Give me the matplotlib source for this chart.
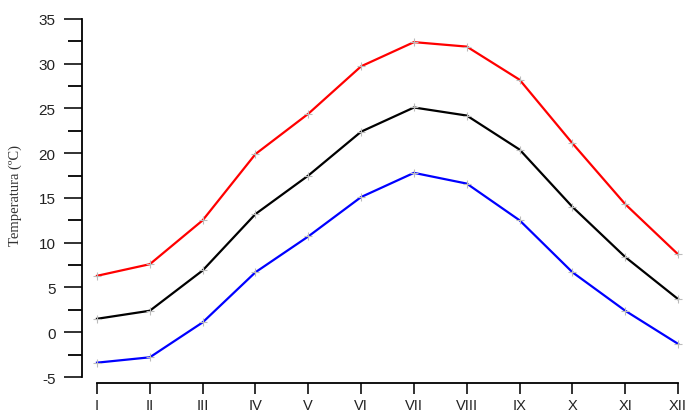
import matplotlib
matplotlib.use("Agg")
import matplotlib.pyplot as plt
import numpy as np

months = ['I', 'II', 'III', 'IV', 'V', 'VI', 'VII', 'VIII', 'IX', 'X', 'XI', 'XII']
t_max = [6.3, 7.6, 12.5, 19.9, 24.4, 29.7, 32.4, 31.9, 28.2, 21.1, 14.3, 8.7]
t_mean = [1.5, 2.4, 6.9, 13.2, 17.5, 22.4, 25.1, 24.2, 20.4, 14.0, 8.4, 3.7]
t_min = [-3.4, -2.8, 1.1, 6.7, 10.7, 15.1, 17.8, 16.6, 12.5, 6.7, 2.4, -1.3]

plt.rcParams['font.family'] = ['Liberation Sans', 'DejaVu Sans']
plt.rcParams['axes.unicode_minus'] = False

fig = plt.figure(figsize=(6.86, 4.14), dpi=100)
ax = fig.add_axes([82 / 686, 33 / 414, 604 / 686, 371 / 414])

x = np.arange(1, len(months) + 1)
for vals, col in [(t_max, 'red'), (t_mean, 'black'), (t_min, 'blue')]:
    ax.plot(x, vals, color=col, lw=1.6, marker='+', ms=6,
            mec='#bbbbbb', mew=0.8)

ax.set_xlim(0.716, 12.15)
ax.set_ylim(-5.335, 36.1)

for s in ['top', 'right']:
    ax.spines[s].set_visible(False)
ax.spines['left'].set_bounds(-5, 35)
ax.spines['bottom'].set_bounds(1, 12)
ax.spines['left'].set_linewidth(1.3)
ax.spines['bottom'].set_linewidth(1.3)

ax.set_yticks(np.arange(-5, 36, 5))
ax.set_yticks(np.arange(-2.5, 35, 5), minor=True)
ax.set_xticks(x)
ax.set_xticklabels(months)
ax.tick_params(axis='y', which='major', length=13, width=1.3, labelsize=11, pad=6, colors='#222222')
ax.tick_params(axis='y', which='minor', length=10, width=1.3)
ax.tick_params(axis='x', which='major', length=8, width=1.3, labelsize=10.5, pad=3, colors='#222222')
ax.spines['bottom'].set_position(('outward', 2))

ax.set_ylabel('Temperatura (ºC)', family=['Liberation Serif', 'DejaVu Serif'],
              fontsize=10.5, color='#333333', labelpad=12)

fig.savefig('out.png', dpi=100)
